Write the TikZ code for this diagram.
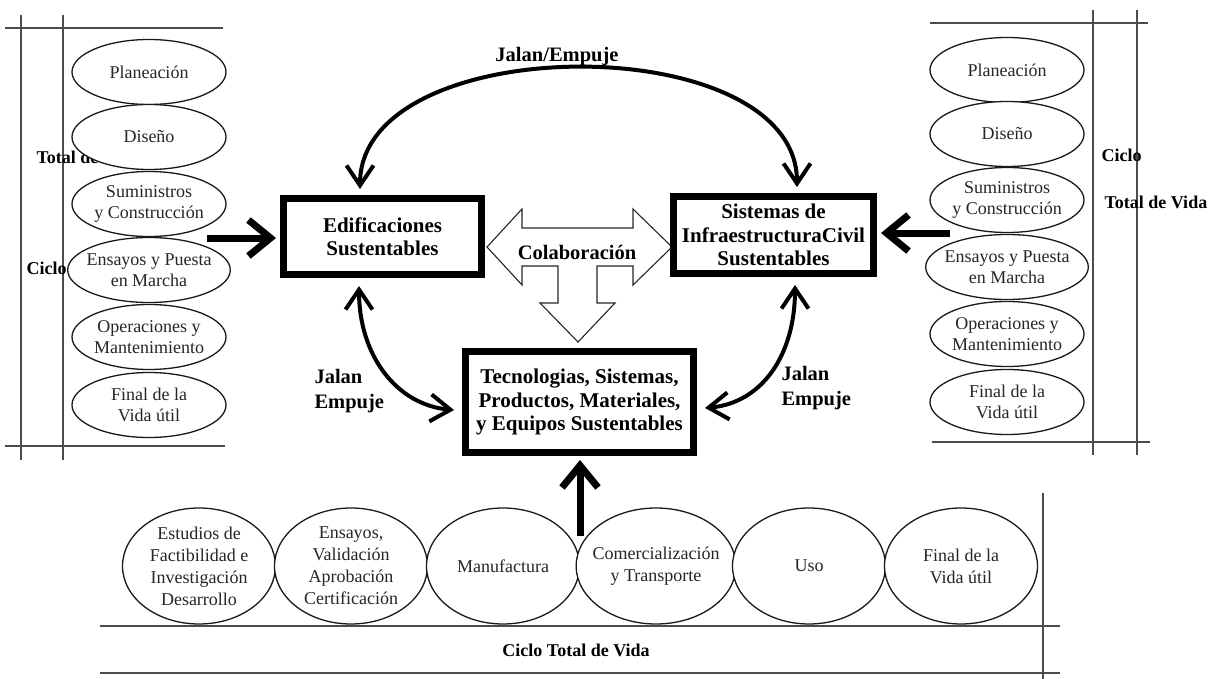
\documentclass[tikz,border=0pt]{standalone}
\usepackage{fontspec}
\setmainfont{Liberation Serif}
\usetikzlibrary{shapes.geometric,arrows.meta}
\begin{document}
\begin{tikzpicture}[x=1pt,y=-1pt,
  thinline/.style={line width=1.1pt, draw=black!70},
  phase/.style={ellipse, draw=black!90, line width=1.3pt, fill=white, minimum width=154pt, minimum height=65pt, inner sep=-5pt, align=center, font=\fontsize{18}{21}\selectfont, text=black!85},
  bphase/.style={phase, minimum width=153pt, minimum height=116pt, inner sep=-7pt, font=\fontsize{18}{22}\selectfont},
  mainbox/.style={draw, line width=7pt, fill=white, align=center, font=\bfseries\fontsize{21}{23.5}\selectfont, inner sep=0pt},
  lbl/.style={font=\bfseries\fontsize{18}{22}\selectfont},
  jlbl/.style={font=\bfseries\fontsize{20.5}{25}\selectfont, align=left},
  curv/.style={line width=4pt, {Straight Barb[length=20pt,width=27pt]}-{Straight Barb[length=20pt,width=27pt]}},
  bigarrow/.style={line width=7pt, -{Straight Barb[length=22pt,width=36pt]}},
  hollow/.style={draw=black!85, line width=1.1pt, fill=white},
]
\useasboundingbox (0,0) rectangle (1217,679);

% frame lines, left
\draw[thinline] (21,15) -- (21,460);
\draw[thinline] (63,15) -- (63,460);
\draw[thinline] (5,28) -- (223,28);
\draw[thinline] (5,446) -- (225,446);
% frame lines, right
\draw[thinline] (1093,10) -- (1093,455);
\draw[thinline] (1137,10) -- (1137,455);
\draw[thinline] (930,23) -- (1148,23);
\draw[thinline] (932,442) -- (1150,442);
% frame lines, bottom
\draw[thinline] (100,626) -- (1060,626);
\draw[thinline] (100,673) -- (1060,673);
\draw[thinline] (1043,493) -- (1043,679);

% side labels
\node[lbl, anchor=west] (ttl) at (33,157) {Total de Vida};
\node[lbl, anchor=west] (cl) at (23,268) {Ciclo};
\node[lbl, anchor=west] (cr) at (1098,155) {Ciclo};
\node[lbl, anchor=west] (tr) at (1101,202) {Total de Vida};
\node[lbl] (cb) at (576,650) {Ciclo Total de Vida};

% left phases
\node[phase] (l1) at (149,72) {Planeación};
\node[phase] (l2) at (149,137) {Diseño};
\node[phase] (l3) at (149,204) {Suministros\\y Construcción};
\node[phase] (l4) at (149,270) {Ensayos y Puesta\\en Marcha};
\node[phase] (l5) at (149,337) {Operaciones y\\Mantenimiento};
\node[phase] (l6) at (149,405) {Final de la\\Vida útil};
% right phases
\node[phase] (r1) at (1007,70) {Planeación};
\node[phase] (r2) at (1007,134) {Diseño};
\node[phase] (r3) at (1007,200) {Suministros\\y Construcción};
\node[phase] (r4) at (1007,267) {Ensayos y Puesta\\en Marcha};
\node[phase] (r5) at (1007,334) {Operaciones y\\Mantenimiento};
\node[phase] (r6) at (1007,402) {Final de la\\Vida útil};
% bottom phases
\node[bphase] (b1) at (199,566) {Estudios de\\Factibilidad e\\Investigación\\Desarrollo};
\node[bphase] (b2) at (351,566) {Ensayos,\\Validación\\Aprobación\\Certificación};
\node[bphase] (b3) at (503,566) {Manufactura};
\node[bphase] (b4) at (656,566) {Comercialización\\y Transporte};
\node[bphase] (b5) at (809,566) {Uso};
\node[bphase] (b6) at (961,566) {Final de la\\Vida útil};

% hollow collaboration arrow
\draw[hollow] (487,247) -- (522,209) -- (522,228) -- (633,228) -- (633,209) -- (672,247)
  -- (633,285) -- (633,266) -- (597,266) -- (597,303) -- (615,303) -- (578,342)
  -- (540,303) -- (558,303) -- (558,266) -- (522,266) -- (522,285) -- cycle;
\node[font=\bfseries\fontsize{20.5}{24}\selectfont] (col) at (577,252) {Colaboración};

% main boxes
\node[mainbox, minimum width=198pt, minimum height=76pt] (edif) at (382.5,236.5) {Edificaciones\\Sustentables};
\node[mainbox, minimum width=200pt, minimum height=77pt] (sist) at (773.5,235) {Sistemas de\\InfraestructuraCivil\\Sustentables};
\node[mainbox, minimum width=228pt, minimum height=101pt] (tec) at (579.5,402) {Tecnologias, Sistemas,\\Productos, Materiales,\\y Equipos Sustentables};

% curved push/pull arrows
\node[font=\bfseries\fontsize{20.5}{24}\selectfont] (jt) at (557,57) {Jalan/Empuje};
\draw[curv] ([xshift=-22.5pt,yshift=6pt]edif.north) .. controls +(0,-160) and +(0,-160) .. ([xshift=23.5pt,yshift=6pt]sist.north);
\path (tec.west) ++(-8,8) coordinate (lj);
\path (tec.east) ++(8,6) coordinate (rj);
\draw[curv] ([xshift=-23.5pt,yshift=-8pt]edif.south) .. controls +(0,70) and +(-57,-5) .. (lj);
\draw[curv] ([xshift=21.5pt,yshift=-8pt]sist.south) .. controls +(0,70) and +(57,-5) .. (rj);
\node[jlbl, anchor=west] (jl) at (311,391) {Jalan\\Empuje};
\node[jlbl, anchor=west] (jr) at (778,388) {Jalan\\Empuje};

% thick inflow arrows
\coordinate (lt) at (207,238);
\coordinate (rt) at (950,233);
\coordinate (bt) at (580,536);
\draw[bigarrow, shorten >=4pt] (lt) -- (lt -| edif.west);
\draw[bigarrow, shorten >=4pt] (rt) -- (rt -| sist.east);
\draw[bigarrow, shorten >=4pt] (bt) -- (bt |- tec.south);
\end{tikzpicture}
\end{document}
